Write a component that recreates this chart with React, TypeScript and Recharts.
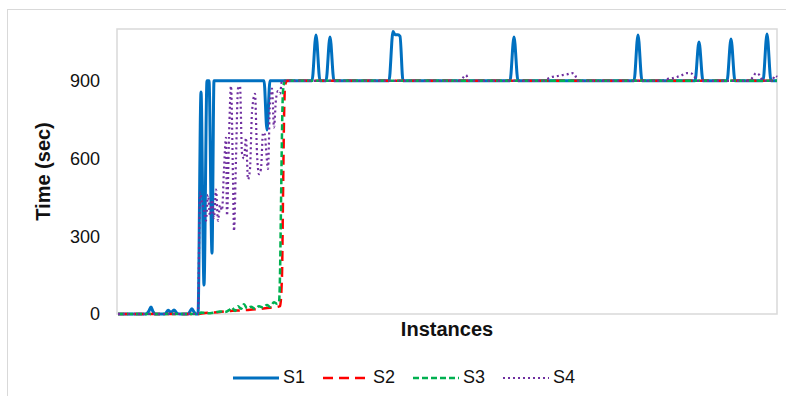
import { LineChart, Line, XAxis, YAxis, ReferenceArea, Legend } from 'recharts';

// instance index / time (sec) pairs
const s1Inst = [1, 29, 32, 34, 36, 38, 48, 51, 54, 57, 60, 63, 71, 73, 75, 77, 79, 81, 84, 87, 90, 92, 95, 97, 147, 150, 153, 195, 199, 203, 209, 213, 217, 272, 276, 278, 281, 283, 286, 393, 397, 401, 517, 521, 525, 578, 582, 586, 610, 614, 618, 646, 650, 654, 660];
const s1Time = [0, 0, 12, 27, 10, 0, 0, 14, 6, 15, 3, 0, 0, 10, 20, 8, 0, 0, 857, 112, 900, 900, 235, 900, 900, 710, 900, 900, 1077, 900, 900, 1069, 900, 900, 1090, 1078, 1078, 1072, 900, 900, 1069, 900, 900, 1077, 900, 900, 1050, 900, 900, 1061, 900, 900, 1081, 900, 900];

const s2Inst = [1, 82, 86, 93, 103, 113, 123, 133, 143, 153, 161, 163, 165, 166, 167, 168, 170, 660];
const s2Time = [0, 0, 3, 5, 8, 12, 14, 16, 20, 24, 28, 30, 150, 450, 750, 880, 900, 900];

const s3Inst = [1, 82, 84, 88, 93, 98, 103, 108, 112, 115, 118, 121, 124, 127, 130, 134, 138, 142, 146, 150, 153, 157, 160, 162, 163, 164, 165, 166, 168, 660];
const s3Time = [0, 0, 6, 4, 3, 6, 10, 8, 15, 25, 12, 30, 20, 38, 22, 28, 20, 30, 25, 35, 28, 45, 40, 45, 150, 420, 700, 860, 900, 900];

const s4Inst = [1, 81, 83, 85, 87, 89, 91, 93, 95, 97, 99, 101, 103, 105, 107, 109, 110, 112, 114, 116, 117, 119, 121, 123, 125, 127, 129, 131, 133, 135, 138, 140, 142, 144, 146, 148, 149, 151, 153, 155, 157, 159, 161, 163, 165,
  343, 346, 349, 352, 427, 430, 435, 440, 445, 450, 455, 458, 461, 545, 550, 555, 560, 565, 570, 573, 577, 580, 632, 636, 639, 643, 646, 655, 658, 660];
const s4Time = [0, 0, 470, 430, 400, 360, 460, 380, 440, 370, 480, 360, 420, 400, 560, 680, 380, 680, 880, 520, 320, 600, 870, 880, 620, 600, 680, 520, 560, 780, 850, 620, 540, 560, 700, 690, 640, 560, 820, 870, 720, 830, 860, 850, 900,
  900, 912, 922, 900, 900, 907, 915, 918, 922, 925, 930, 922, 900, 900, 907, 910, 915, 922, 930, 930, 920, 900, 900, 915, 930, 920, 900, 900, 920, 915];

const yTicks = [0, 300, 600, 900];

const series = [
  { key: 's1', name: 'S1', inst: s1Inst, time: s1Time, color: '#0070C0', width: 3, dash: undefined as string | undefined },
  { key: 's2', name: 'S2', inst: s2Inst, time: s2Time, color: '#FF0000', width: 2.5, dash: '10 6' },
  { key: 's3', name: 'S3', inst: s3Inst, time: s3Time, color: '#00B050', width: 2.5, dash: '6 3' },
  { key: 's4', name: 'S4', inst: s4Inst, time: s4Time, color: '#7030A0', width: 2.2, dash: '2 3' },
];

function buildRows() {
  const map = new Map<number, any>();
  series.forEach(s => s.inst.forEach((x, i) => {
    const row = map.get(x) ?? { x };
    row[s.key] = s.time[i];
    map.set(x, row);
  }));
  return [...map.values()].sort((a, b) => a.x - b.x);
}

const rows = buildRows();
const font = '"Liberation Sans", Arial, sans-serif';

function LegendBox() {
  return (
    <div style={{ display: 'flex', fontFamily: font, fontSize: 18, color: '#111' }}>
      {series.map(s => (
        <div key={s.key} style={{ display: 'flex', alignItems: 'center', width: 90 }}>
          <svg width={46} height={10}>
            <line x1={0} y1={5} x2={46} y2={5} stroke={s.color} strokeWidth={s.width} strokeDasharray={s.dash} />
          </svg>
          <span style={{ marginLeft: 4 }}>{s.name}</span>
        </div>
      ))}
    </div>
  );
}

export default function App() {
  return (
    <div style={{ position: 'relative', width: 786, height: 396, overflow: 'hidden', fontFamily: font }}>
      <style>{'body{margin:0}'}</style>
      <div style={{ position: 'absolute', left: 7, top: 9, width: 820, height: 420, border: '1px solid #d9d9d9' }} />
      <LineChart width={786} height={396} data={rows} margin={{ top: 29, right: 9, bottom: 0, left: 0 }}>
        <ReferenceArea x1={0} x2={660} y1={0} y2={1100} fill="none" stroke="#d9d9d9" strokeWidth={1.5} ifOverflow="visible" />
        <XAxis dataKey="x" type="number" domain={[0, 660]} tick={false} axisLine={false} tickLine={false} height={82}
          label={{
            content: (p: any) => (
              <text x={p.viewBox.x + p.viewBox.width / 2} y={336} textAnchor="middle" fontSize={20} fontWeight="bold" fill="#111">Instances</text>
            ),
          }} />
        <YAxis type="number" domain={[0, 1100]} ticks={yTicks} interval={0} width={117} axisLine={false} tickLine={false}
          tickMargin={11} tick={{ fontSize: 18, fill: '#111' }}
          label={{
            content: (p: any) => {
              const cy = p.viewBox.y + p.viewBox.height / 2;
              return (
                <text x={43} y={cy} transform={`rotate(-90 43 ${cy})`} textAnchor="middle" dominantBaseline="central"
                  fontSize={20} fontWeight="bold" fill="#111">Time (sec)</text>
              );
            },
          }} />
        {series.map(s => (
          <Line key={s.key} dataKey={s.key} name={s.name} type="monotone" stroke={s.color} strokeWidth={s.width}
            strokeDasharray={s.dash} dot={false} connectNulls isAnimationActive={false} />
        ))}
        <Legend verticalAlign="middle" layout="horizontal" content={() => <LegendBox />}
          wrapperStyle={{ top: 367, left: 233, width: 400, height: 24 }} />
      </LineChart>
    </div>
  );
}
